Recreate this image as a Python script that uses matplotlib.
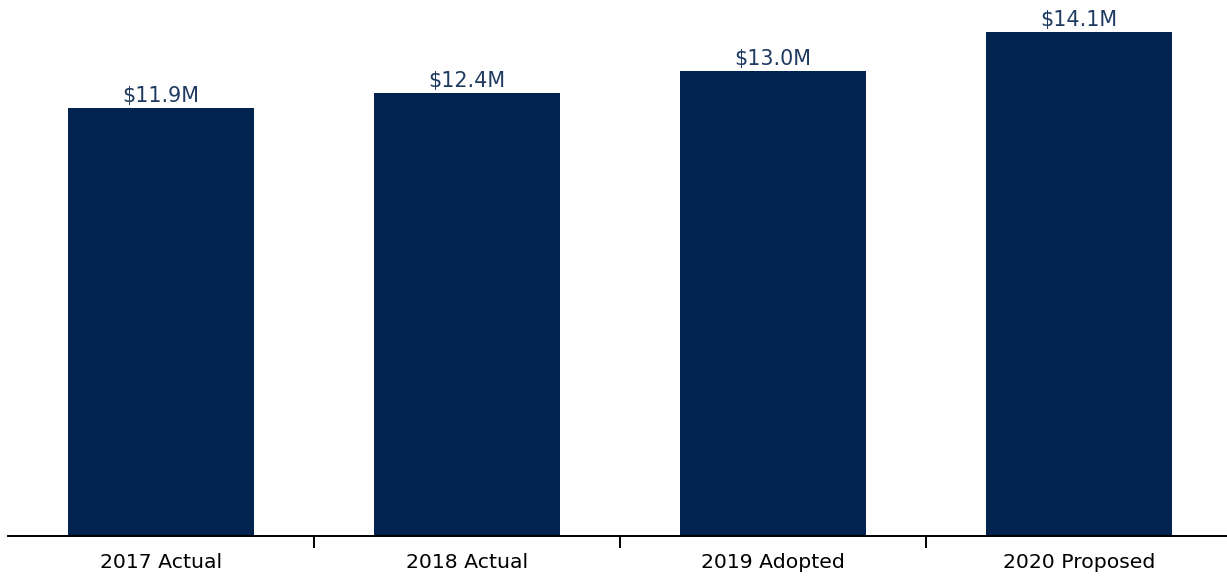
import matplotlib
matplotlib.use("Agg")
import matplotlib.pyplot as plt

categories = ["2017 Actual", "2018 Actual", "2019 Adopted", "2020 Proposed"]
values = [11.97, 12.4, 13.01, 14.1]
labels = ["$11.9M", "$12.4M", "$13.0M", "$14.1M"]

bar_color = "#00234f"
text_color = "#1f3a60"

fig = plt.figure(figsize=(12.27, 5.77), dpi=100)
ax = fig.add_axes([8 / 1227, 41 / 577, (1232 - 8) / 1227, 536 / 577])

x = list(range(len(categories)))
bars = ax.bar(x, values, width=0.61, color=bar_color)
for b, lab in zip(bars, labels):
    ax.annotate(lab, (b.get_x() + b.get_width() / 2, b.get_height()),
                xytext=(0, 1.5), textcoords="offset points",
                ha="center", va="bottom", fontsize=14.9, color=text_color)

ax.set_xlim(-0.5, 3.5)
ax.set_ylim(0, 15)
ax.set_yticks([])
ax.set_xticks(x)
ax.set_xticklabels(categories, fontsize=14.7)
ax.set_xticks([0.5, 1.5, 2.5], minor=True)
ax.tick_params(axis="x", which="major", length=0, pad=12)
ax.tick_params(axis="x", which="minor", length=8.6, width=1.4, color="black")
for s in ["top", "left", "right"]:
    ax.spines[s].set_visible(False)
ax.spines["bottom"].set_linewidth(1.4)

fig.savefig("out.png", dpi=100)
